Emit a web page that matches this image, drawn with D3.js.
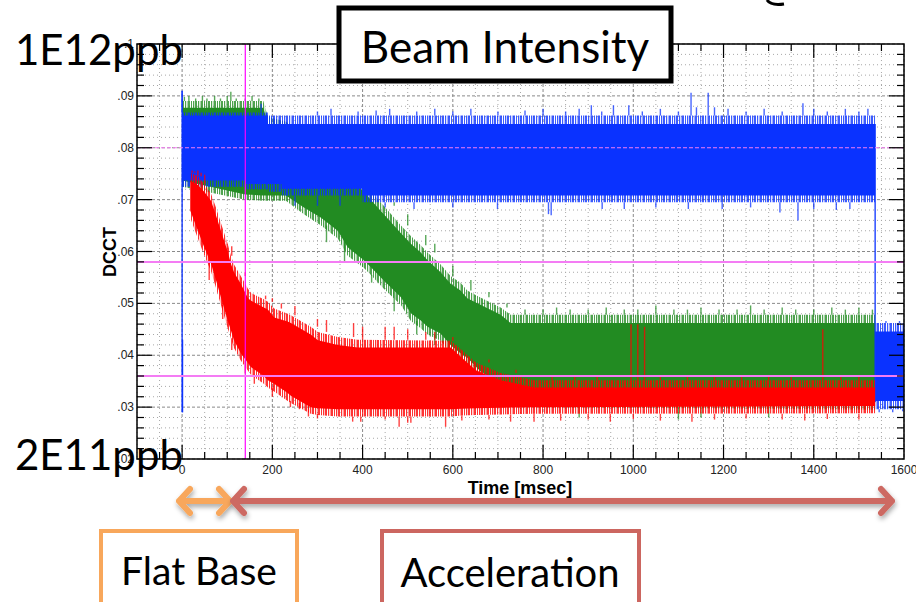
<!DOCTYPE html>
<html><head><meta charset="utf-8">
<script src="https://cdn.jsdelivr.net/npm/d3@7"></script>
<style>html,body{margin:0;padding:0;background:#fff;}svg{display:block;}</style>
</head><body><svg id="c" width="916" height="602"></svg>
<script>
// ---------- DATA ----------
const xTicks = [0,200,400,600,800,1000,1200,1400,1600];
const yTicks = [0.02,0.03,0.04,0.05,0.06,0.07,0.08,0.09,0.1];
const markerTime = [140];
const markerLevels = [0.08, 0.058, 0.036];

// band envelopes (time in msec, DCCT values): solid core and ragged outer fringe
const blueT   = [0,      140,    190,    220,    400,    1536,   1600];
const blueHi  = [0.0862, 0.0862, 0.0846, 0.0846, 0.0846, 0.0446, 0.0446];
const blueLo  = [0.0737, 0.0730, 0.0730, 0.0721, 0.0708, 0.0312, 0.0312];
const blueFHi = [0.0868, 0.0868, 0.0862, 0.0862, 0.0862, 0.0462, 0.0462];
const blueFLo = [0.0725, 0.0720, 0.0715, 0.0708, 0.0695, 0.0296, 0.0296];

const greenT   = [0,     140,    180,    190,    230,    270,    308,    345,    367,    403,    418,    447,    485,    507,    529,    544,    573,    595,    617,    632,    660,    706,    728,    780,    1536];
const greenHi  = [0.0877,0.0877, 0.0877, 0.0846, 0.0835, 0.0815, 0.0790, 0.0765, 0.0745, 0.0715, 0.0700, 0.0672, 0.0635, 0.0615, 0.0598, 0.0583, 0.0560, 0.0538, 0.0525, 0.0510, 0.0498, 0.0478, 0.0462, 0.0462, 0.0462];
const greenLo  = [0.0737,0.0710, 0.0708, 0.0708, 0.0708, 0.0685, 0.0665, 0.0640, 0.0608, 0.0583, 0.0570, 0.0544, 0.0512, 0.0481, 0.0467, 0.0455, 0.0442, 0.0420, 0.0404, 0.0395, 0.0370, 0.0345, 0.0335, 0.0315, 0.0308];
const greenFHi = [0.0890,0.0890, 0.0890, 0.0860, 0.0850, 0.0830, 0.0805, 0.0780, 0.0760, 0.0730, 0.0715, 0.0688, 0.0650, 0.0630, 0.0612, 0.0598, 0.0575, 0.0553, 0.0540, 0.0525, 0.0512, 0.0492, 0.0478, 0.0478, 0.0478];
const greenFLo = [0.0725,0.0700, 0.0698, 0.0698, 0.0698, 0.0672, 0.0650, 0.0625, 0.0592, 0.0568, 0.0555, 0.0528, 0.0497, 0.0466, 0.0452, 0.0440, 0.0428, 0.0405, 0.0390, 0.0380, 0.0356, 0.0330, 0.0320, 0.0300, 0.0295];

const redT   = [18,    35,    49,    64,    75,    86,    101,   108,   115,   130,   146,   153,   181,   190,   204,   234,   241,   285,   301,   345,   389,   595,   620,   651,   706,   780,   1536];
const redHi  = [0.0737,0.0728,0.0715,0.0698,0.0670,0.0640,0.0600,0.0577,0.0560,0.0538,0.0510,0.0505,0.0492,0.0488,0.0473,0.0465,0.0462,0.0440,0.0429,0.0420,0.0415,0.0415,0.0395,0.0371,0.0352,0.0338,0.0338];
const redLo  = [0.0679,0.0640,0.0608,0.0577,0.0545,0.0512,0.0467,0.0448,0.0429,0.0404,0.0385,0.0377,0.0360,0.0352,0.0345,0.0327,0.0322,0.0300,0.0298,0.0296,0.0296,0.0296,0.0297,0.0298,0.0299,0.0300,0.0302];
const redFHi = [0.0752,0.0745,0.0730,0.0712,0.0685,0.0655,0.0615,0.0592,0.0575,0.0553,0.0528,0.0520,0.0508,0.0503,0.0490,0.0480,0.0477,0.0455,0.0445,0.0435,0.0430,0.0428,0.0410,0.0386,0.0366,0.0352,0.0352];
const redFLo = [0.0665,0.0625,0.0593,0.0562,0.0530,0.0497,0.0452,0.0433,0.0414,0.0390,0.0370,0.0362,0.0345,0.0338,0.0330,0.0312,0.0308,0.0287,0.0285,0.0282,0.0282,0.0282,0.0284,0.0285,0.0286,0.0287,0.0288];

// isolated spikes (time, value reached)
const blueSpikeT = [0,175,300,330,390,430,460,520,560,600,640,700,760,800,850,880,907,930,956,990,1020,1060,1100,1128,1140,1166,1180,1210,1250,1290,1330,1376,1400,1430,1470,1500,1520,
                    250,300,350,450,514,600,699,812,818,931,980,1050,1122,1197,1260,1325,1365,1400,1450,1480,1545,1560,1575,1590,1597];
const blueSpikeV = [0.0910,0.0885,0.0870,0.0875,0.0870,0.0872,0.0875,0.0870,0.0875,0.0870,0.0875,0.0870,0.0872,0.0875,0.0870,0.0875,0.0882,0.0870,0.0882,0.0882,0.0870,0.0875,0.0870,0.0906,0.0878,0.0906,0.0878,0.0875,0.0870,0.0875,0.0870,0.0886,0.0875,0.0870,0.0875,0.0870,0.0875,
                    0.0688,0.0688,0.0688,0.0685,0.0682,0.0685,0.0682,0.0672,0.0670,0.0682,0.0682,0.0685,0.0682,0.0682,0.0685,0.0675,0.0660,0.0682,0.0680,0.0682,0.0290,0.0466,0.0290,0.0466,0.0292];
// vertical blue strokes (start of beam, end of green)
const blueLineT  = [0,     1,     1536];
const blueLineLo = [0.029, 0.029, 0.031];
const blueLineHi = [0.091, 0.043, 0.0846];

const greenSpikeT = [5,15,30,45,55,72,85,100,108,120,140,155,170,
                     420,470,500,540,560,600,640,680,720,
                     320,360,420,470,520,560,
                     760,800,830,860,900,940,980,1010,1050,1090,1120,1150,1190,1230,1260,1290,1330,1360,1400,1440,1470,1500,1530,
                     880,1100,1150,1300];
const greenSpikeV = [0.0898,0.0900,0.0895,0.0900,0.0895,0.0900,0.0895,0.0900,0.0908,0.0895,0.0895,0.0900,0.0895,
                     0.0728,0.0695,0.0672,0.0632,0.0615,0.0572,0.0545,0.0522,0.0500,
                     0.0618,0.0580,0.0540,0.0485,0.0440,0.0420,
                     0.0488,0.0488,0.0492,0.0488,0.0488,0.0492,0.0488,0.0488,0.0496,0.0488,0.0488,0.0492,0.0488,0.0488,0.0496,0.0488,0.0492,0.0488,0.0488,0.0492,0.0488,0.0492,0.0488,
                     0.0280,0.0276,0.0280,0.0280];

const redSpikeT = [22,28,35,42,50,
                   110,140,175,185,200,220,250,300,320,380,400,450,470,500,540,560,600,640,680,740,995,1010,1025,1420,
                   820,870,920,1060,1120,1180,1240,1300,1350,1460,1500,
                   60,90,110,140,160,200,240,260,280,
                   300,378,396,450,481,500,507,584,620,680,728,780,839,900,949,1000,1060,1130,1180,1250,1330,1380,1430,1500];
const redSpikeV = [0.0756,0.0754,0.0756,0.0752,0.0748,
                   0.0610,0.0560,0.0520,0.0515,0.0510,0.0500,0.0495,0.0470,0.0468,0.0462,0.0455,0.0455,0.0455,0.0450,0.0445,0.0445,0.0435,0.0410,0.0392,0.0372,0.0460,0.0460,0.0455,0.0450,
                   0.0362,0.0360,0.0362,0.0360,0.0362,0.0362,0.0360,0.0362,0.0362,0.0360,0.0362,
                   0.0545,0.0470,0.0410,0.0365,0.0345,0.0320,0.0300,0.0296,0.0282,
                   0.0278,0.0272,0.0272,0.0276,0.0262,0.0270,0.0270,0.0262,0.0274,0.0276,0.0272,0.0272,0.0274,0.0276,0.0272,0.0277,0.0274,0.0272,0.0276,0.0278,0.0276,0.0274,0.0277,0.0276];

// ---------- DRAWING ----------
const svg = d3.select("#c");
const L = 137, R = 904, T = 44, B = 459;
const x = d3.scaleLinear().domain([-100,1600]).range([L,R]);
const y = d3.scaleLinear().domain([0.02,0.1]).range([B,T]);

const BLUE = "#0a32ff", GREEN = "#228b22", RED = "#ff0000";

// striped fill patterns for the noisy fringe of each trace
const defs = svg.append("defs");
[["pb", BLUE], ["pg", GREEN], ["pr", RED]].forEach(([id, col]) => {
  const p = defs.append("pattern").attr("id", id).attr("patternUnits", "userSpaceOnUse")
    .attr("width", 13).attr("height", 8);
  [[0,2],[3,1.2],[5.5,2.5],[9,1],[11,1.3]].forEach(([px, pw]) =>
    p.append("rect").attr("x", px).attr("y", 0).attr("width", pw).attr("height", 8).attr("fill", col).attr("fill-opacity", 0.8));
});

// grid
const g = svg.append("g");
const xGrid = d3.range(-100, 1601, 50);
const yGrid = d3.range(0, 41).map(i => 0.02 + i*0.002);
g.selectAll(".vx").data(xGrid).join("line")
  .attr("x1", d=>x(d)).attr("x2", d=>x(d)).attr("y1", T).attr("y2", B)
  .attr("stroke", d => d%200===0 ? "#8a8a8a" : "#a8a8a8")
  .attr("stroke-width", 1)
  .attr("stroke-dasharray", d => d%200===0 ? "3,2" : "1,3");
g.selectAll(".hy").data(yGrid).join("line")
  .attr("x1", L).attr("x2", R).attr("y1", d=>y(d)).attr("y2", d=>y(d))
  .attr("stroke", (d,i) => i%5===0 ? "#8a8a8a" : "#a8a8a8")
  .attr("stroke-width", 1)
  .attr("stroke-dasharray", (d,i) => i%5===0 ? "3,2" : "1,3");

function rows(t, lo, hi){ return t.map((v,i)=>({t:v, lo:lo[i], hi:hi[i]})); }
const stepArea = d3.area().curve(d3.curveStepAfter).x(d=>x(d.t)).y0(d=>y(d.lo)).y1(d=>y(d.hi));
const linArea  = d3.area().curve(d3.curveLinear).x(d=>x(d.t)).y0(d=>y(d.lo)).y1(d=>y(d.hi));

function edgeAt(rowsArr, t){
  const i = Math.max(0, d3.bisector(d=>d.t).right(rowsArr, t) - 1);
  return rowsArr[i];
}
function spikes(rowsArr, ts, vs, color){
  const data = ts.map((t,i)=>{
    const r = edgeAt(rowsArr, t);
    const v = vs[i];
    const from = v >= r.hi ? r.hi : (v <= r.lo ? r.lo : v);
    return {t, from, v};
  });
  svg.append("g").selectAll("line").data(data).join("line")
    .attr("x1", d=>x(d.t)).attr("x2", d=>x(d.t))
    .attr("y1", d=>y(d.from)).attr("y2", d=>y(d.v))
    .attr("stroke", color).attr("stroke-width", 1.4).attr("stroke-opacity", 0.75);
}
function band(tArr, lo, hi, flo, fhi, color, pat, gen){
  const fr = rows(tArr, flo, fhi);
  svg.append("path").datum(fr).attr("d", gen).attr("fill", `url(#${pat})`);
  svg.append("path").datum(rows(tArr, lo, hi)).attr("d", gen).attr("fill", color);
  return fr;
}

const greenF = band(greenT, greenLo, greenHi, greenFLo, greenFHi, GREEN, "pg", linArea);
spikes(greenF, greenSpikeT, greenSpikeV, GREEN);
const blueF = band(blueT, blueLo, blueHi, blueFLo, blueFHi, BLUE, "pb", stepArea);
spikes(blueF, blueSpikeT, blueSpikeV, BLUE);
svg.append("g").selectAll("line").data(blueLineT.map((t,i)=>({t, lo:blueLineLo[i], hi:blueLineHi[i]}))).join("line")
  .attr("x1", d=>x(d.t)).attr("x2", d=>x(d.t)).attr("y1", d=>y(d.lo)).attr("y2", d=>y(d.hi))
  .attr("stroke", BLUE).attr("stroke-width", 1.3);
const redF = band(redT, redLo, redHi, redFLo, redFHi, RED, "pr", linArea);
spikes(redF, redSpikeT, redSpikeV, RED);

// magenta markers
svg.selectAll(".mv").data(markerTime).join("line")
  .attr("x1", d=>x(d)).attr("x2", d=>x(d)).attr("y1", T).attr("y2", B)
  .attr("stroke", "#ff00ff").attr("stroke-width", 1.2);
svg.selectAll(".mh").data(markerLevels).join("line")
  .attr("x1", L).attr("x2", R).attr("y1", d=>y(d)).attr("y2", d=>y(d))
  .attr("stroke", "#f47cf4")
  .attr("stroke-width", (d,i)=> i===0 ? 1 : 2)
  .attr("stroke-dasharray", (d,i)=> i===0 ? "4,2" : null);

// frame and ticks
const ax = svg.append("g").attr("stroke", "#000");
ax.append("rect").attr("x", L).attr("y", T).attr("width", R-L).attr("height", B-T)
  .attr("fill", "none").attr("stroke-width", 1.5);
ax.selectAll(".tx").data(xGrid.filter(d=>d>-100 && d<1600)).join("g").each(function(d){
  const len = d%200===0 ? 14 : 7;
  const s = d3.select(this);
  s.append("line").attr("x1", x(d)).attr("x2", x(d)).attr("y1", B).attr("y2", B-len);
  s.append("line").attr("x1", x(d)).attr("x2", x(d)).attr("y1", T).attr("y2", T+len);
}).attr("stroke-width", 1.2);
ax.selectAll(".ty").data(yGrid.slice(1, -1)).join("g").each(function(d,i){
  const len = (i+1)%5===0 ? 15 : 7;
  const s = d3.select(this);
  s.append("line").attr("x1", L).attr("x2", L+len).attr("y1", y(d)).attr("y2", y(d));
  s.append("line").attr("x1", R).attr("x2", R-len).attr("y1", y(d)).attr("y2", y(d));
}).attr("stroke-width", 1.2);

const fNarrow = "'Liberation Sans Narrow', 'Arial Narrow', 'Liberation Sans', Arial, sans-serif";
svg.append("g").selectAll("text").data(xTicks).join("text")
  .attr("x", d=>x(d)).attr("y", B+15).attr("text-anchor", "middle")
  .attr("font-family", fNarrow).attr("font-size", 12).attr("fill", "#222")
  .text(d=>d);
svg.append("g").selectAll("text").data(yTicks).join("text")
  .attr("x", L-3).attr("y", d=>y(d)+4).attr("text-anchor", "end")
  .attr("font-family", fNarrow).attr("font-size", 12).attr("fill", "#222")
  .text(d=>d3.format(".2f")(d).replace(/^0/, "").replace(/0$/, ""));
svg.append("text").attr("x", 520).attr("y", 494).attr("text-anchor", "middle")
  .attr("font-family", fNarrow).attr("font-weight", "bold").attr("font-size", 18)
  .text("Time [msec]");
svg.append("text").attr("transform", "translate(116,252) rotate(-90)").attr("text-anchor", "middle")
  .attr("font-family", fNarrow).attr("font-weight", "bold").attr("font-size", 18)
  .text("DCCT");

// ---------- annotations ----------
const fCal = "Lato, 'Open Sans', sans-serif";
svg.append("text").attr("x", 15).attr("y", 65).attr("font-family", fCal).attr("font-size", 42).text("1E12ppb");
svg.append("text").attr("x", 15).attr("y", 470).attr("font-family", fCal).attr("font-size", 42).text("2E11ppb");

svg.append("rect").attr("x", 339).attr("y", 8).attr("width", 332).attr("height", 73)
  .attr("fill", "#fff").attr("stroke", "#000").attr("stroke-width", 5);
svg.append("text").attr("x", 505).attr("y", 63).attr("text-anchor", "middle")
  .attr("font-family", fCal).attr("font-size", 44).text("Beam Intensity");

svg.append("rect").attr("x", 101).attr("y", 531).attr("width", 196).attr("height", 90)
  .attr("fill", "#fff").attr("stroke", "#f8a75b").attr("stroke-width", 4);
svg.append("text").attr("x", 199).attr("y", 585).attr("text-anchor", "middle")
  .attr("font-family", fCal).attr("font-size", 39).text("Flat Base");
svg.append("rect").attr("x", 382).attr("y", 531).attr("width", 257).attr("height", 90)
  .attr("fill", "#fff").attr("stroke", "#cc6660").attr("stroke-width", 4);
svg.append("text").attr("x", 510).attr("y", 587).attr("text-anchor", "middle")
  .attr("font-family", fCal).attr("font-size", 40).text("Acceleration");

// arrows with shadow
const f = defs.append("filter").attr("id", "sh").attr("x", "-20%").attr("y", "-100%").attr("width", "140%").attr("height", "300%");
f.append("feDropShadow").attr("dx", 1).attr("dy", 3).attr("stdDeviation", 2.5).attr("flood-color", "#000").attr("flood-opacity", 0.35);
function dblArrow(x1, x2, yy, color){
  const h = 12, w = 11;
  const p = `M${x1},${yy}L${x2},${yy}M${x1+w},${yy-h}L${x1},${yy}L${x1+w},${yy+h}M${x2-w},${yy-h}L${x2},${yy}L${x2-w},${yy+h}`;
  svg.append("path").attr("d", p).attr("fill", "none").attr("stroke", color)
    .attr("stroke-width", 6).attr("stroke-linecap", "round").attr("stroke-linejoin", "round")
    .attr("filter", "url(#sh)");
}
dblArrow(179, 230, 501, "#f8a75b");
dblArrow(233, 892, 501, "#cd6962");

// partial curve at top right
svg.append("path").attr("d", "M767,0 Q771,6 784,4").attr("fill", "none").attr("stroke", "#000").attr("stroke-width", 3);
</script></body></html>
